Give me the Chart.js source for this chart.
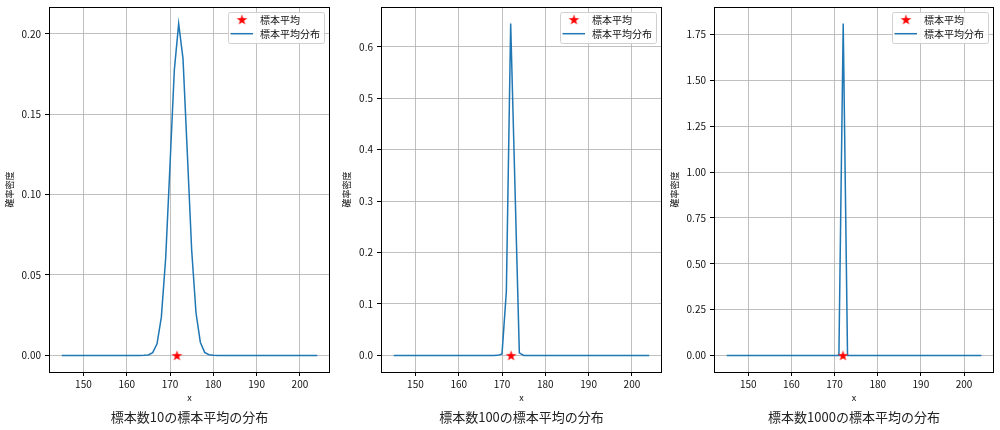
<!DOCTYPE html>
<html lang="ja">
<head>
<meta charset="UTF-8">
<title>標本平均の分布</title>
<script src="https://cdn.jsdelivr.net/npm/chart.js@4.4.1/dist/chart.umd.min.js"></script>
<style>
  body { margin: 0; background: #fff; font-family: "Noto Sans CJK JP", sans-serif; }
  .wrap { position: relative; width: 1000px; height: 430px; overflow: hidden; }
  .panel { position: absolute; top: 0; width: 334px; height: 430px; }
  .caption { position: absolute; top: 408px; font-size: 13px; line-height: 18px; color: #222;
             white-space: nowrap; transform: translateX(-50%); }
</style>
</head>
<body>
<div class="wrap">
  <div class="panel" style="left:0px"><canvas id="chart10"></canvas></div>
  <div class="panel" style="left:333px"><canvas id="chart100"></canvas></div>
  <div class="panel" style="left:666px"><canvas id="chart1000"></canvas></div>
  <div class="caption" id="cap0" style="left:189.5px"></div>
  <div class="caption" id="cap1" style="left:521.5px"></div>
  <div class="caption" id="cap2" style="left:854px"></div>
</div>

<script>
// data
const xValues = [
  145, 146, 147, 148, 149, 150, 151, 152, 153, 154,
  155, 156, 157, 158, 159, 160, 161, 162, 163, 164,
  165, 166, 167, 168, 169, 170, 171, 172, 173, 174,
  175, 176, 177, 178, 179, 180, 181, 182, 183, 184,
  185, 186, 187, 188, 189, 190, 191, 192, 193, 194,
  195, 196, 197, 198, 199, 200, 201, 202, 203, 204
];
const density10 = [
  0, 0, 0, 0, 0, 0, 0, 0, 0, 0,
  0, 0, 0, 0, 0, 0, 0, 0, 0, 0.00004,
  0.0003, 0.0017, 0.0072, 0.0238, 0.0606, 0.1185, 0.1775, 0.2063, 0.1845, 0.1255,
  0.0655, 0.0265, 0.0082, 0.0019, 0.0004, 0.00005, 0, 0, 0, 0,
  0, 0, 0, 0, 0, 0, 0, 0, 0, 0,
  0, 0, 0, 0, 0, 0, 0, 0, 0, 0
];
const density100 = [
  0, 0, 0, 0, 0, 0, 0, 0, 0, 0,
  0, 0, 0, 0, 0, 0, 0, 0, 0, 0,
  0, 0, 0, 0, 0.0001, 0.003, 0.124, 0.645, 0.325, 0.005,
  0.00003, 0, 0, 0, 0, 0, 0, 0, 0, 0,
  0, 0, 0, 0, 0, 0, 0, 0, 0, 0,
  0, 0, 0, 0, 0, 0, 0, 0, 0, 0
];
const density1000 = [
  0, 0, 0, 0, 0, 0, 0, 0, 0, 0,
  0, 0, 0, 0, 0, 0, 0, 0, 0, 0,
  0, 0, 0, 0, 0, 0, 0.0001, 1.81, 0.0001, 0,
  0, 0, 0, 0, 0, 0, 0, 0, 0, 0,
  0, 0, 0, 0, 0, 0, 0, 0, 0, 0,
  0, 0, 0, 0, 0, 0, 0, 0, 0, 0
];
const sampleMeans = [171.6, 172.1, 171.95];
const xTicks = [150, 160, 170, 180, 190, 200];
const yTicks10 = [0, 0.05, 0.10, 0.15, 0.20];
const yTicks100 = [0, 0.1, 0.2, 0.3, 0.4, 0.5, 0.6];
const yTicks1000 = [0, 0.25, 0.5, 0.75, 1.0, 1.25, 1.5, 1.75];
const seriesLabels = ['標本平均', '標本平均分布'];
const captions = ['標本数10の標本平均の分布', '標本数100の標本平均の分布', '標本数1000の標本平均の分布'];

const FONT = '"Noto Sans CJK JP", "Noto Sans", sans-serif';
const BLUE = '#1f77b4';

// filled red star used as the marker
function makeStar() {
  const c = document.createElement('canvas');
  c.width = 13; c.height = 13;
  const g = c.getContext('2d');
  const R = 5.6, r = R * 0.382;
  g.beginPath();
  for (let i = 0; i < 10; i++) {
    const rad = i % 2 === 0 ? R : r;
    const a = -Math.PI / 2 + i * Math.PI / 5;
    const px = 6.5 + rad * Math.cos(a), py = 7 + rad * Math.sin(a);
    if (i === 0) g.moveTo(px, py); else g.lineTo(px, py);
  }
  g.closePath();
  g.fillStyle = 'red';
  g.fill();
  return c;
}
const star = makeStar();

// axes frame on all four sides
const framePlugin = {
  id: 'frame',
  afterDatasetsDraw(chart) {
    const a = chart.chartArea, ctx = chart.ctx;
    ctx.save();
    ctx.strokeStyle = '#000';
    ctx.lineWidth = 1;
    ctx.strokeRect(Math.round(a.left) + 0.5, Math.round(a.top) + 0.5,
                   Math.round(a.right - a.left) - 1, Math.round(a.bottom - a.top));
    ctx.restore();
  }
};

// matplotlib-like legend box inside the plot, top right
const legendPlugin = {
  id: 'boxLegend',
  afterDraw(chart) {
    const a = chart.chartArea, ctx = chart.ctx;
    const w = 96, h = 31;
    const x = a.right - 6 - w, y = a.top + 5;
    ctx.save();
    ctx.beginPath();
    ctx.roundRect(x + 0.5, y + 0.5, w, h, 2);
    ctx.fillStyle = 'rgba(255,255,255,0.85)';
    ctx.fill();
    ctx.strokeStyle = '#d0d0d0';
    ctx.lineWidth = 1;
    ctx.stroke();
    ctx.font = '10px ' + FONT;
    ctx.textBaseline = 'middle';
    ctx.fillStyle = '#111';
    chart.data.datasets.forEach((ds, i) => {
      const cy = y + 8 + i * 13.7;
      if (ds.showLine) {
        ctx.beginPath();
        ctx.moveTo(x + 2.5, cy);
        ctx.lineTo(x + 25, cy);
        ctx.strokeStyle = ds.borderColor;
        ctx.lineWidth = 1.5;
        ctx.stroke();
      } else {
        ctx.drawImage(star, x + 14 - 6.5, cy - 7);
      }
      ctx.fillText(ds.label, x + 32, cy + 0.5);
    });
    ctx.restore();
  }
};

function makeChart(id, density, mean, yTicks, decimals, plotLeft, plotRight, yTitleX) {
  const maxY = Math.max(...density);
  const span = xValues[xValues.length - 1] - xValues[0];
  new Chart(document.getElementById(id), {
    type: 'scatter',
    data: {
      datasets: [
        {
          label: seriesLabels[0],
          data: [{ x: mean, y: 0 }],
          pointStyle: star,
          pointRadius: 6,
          showLine: false
        },
        {
          label: seriesLabels[1],
          data: xValues.map((v, i) => ({ x: v, y: density[i] })),
          showLine: true,
          borderColor: BLUE,
          borderWidth: 1.5,
          pointRadius: 0,
          tension: 0
        }
      ]
    },
    options: {
      responsive: true,
      maintainAspectRatio: false,
      animation: false,
      layout: { autoPadding: false, padding: { left: 0, right: 334 - plotRight, top: 7, bottom: 22 } },
      plugins: { legend: { display: false }, tooltip: { enabled: false } },
      scales: {
        x: {
          type: 'linear',
          min: xValues[0] - span * 0.05,
          max: xValues[xValues.length - 1] + span * 0.05,
          afterBuildTicks: s => { s.ticks = xTicks.map(v => ({ value: v })); },
          afterFit: s => { s.height = 36; s.paddingLeft = 0; s.paddingRight = 0; },
          ticks: {
            font: { family: FONT, size: 10 }, color: '#111', padding: 2, maxRotation: 0,
            callback: v => String(v)
          },
          grid: { color: '#b0b0b0', lineWidth: 0.8, tickColor: '#000', tickLength: 4, tickWidth: 1 },
          border: { display: false },
          title: { display: true, text: 'x', font: { family: FONT, size: 9 }, color: '#111',
                   padding: { top: 0, bottom: 5.3 } }
        },
        y: {
          min: -maxY * 0.05,
          max: maxY * 1.05,
          afterBuildTicks: s => { s.ticks = yTicks.map(v => ({ value: v })); },
          afterFit: s => { s.width = plotLeft; s.paddingTop = 0; s.paddingBottom = 0; },
          ticks: {
            font: { family: FONT, size: 10 }, color: '#111', padding: 4,
            callback: v => v.toFixed(decimals)
          },
          grid: { color: '#b0b0b0', lineWidth: 0.8, tickColor: '#000', tickLength: 4, tickWidth: 1 },
          border: { display: false },
          title: { display: true, text: '確率密度', font: { family: FONT, size: 9 }, color: '#111',
                   padding: { top: yTitleX - 5.4, bottom: 0 } }
        }
      }
    },
    plugins: [framePlugin, legendPlugin]
  });
}

makeChart('chart10', density10, sampleMeans[0], yTicks10, 2, 49, 330, 10);
makeChart('chart100', density100, sampleMeans[1], yTicks100, 1, 48, 329, 13.7);
makeChart('chart1000', density1000, sampleMeans[2], yTicks1000, 2, 48, 328, 9);

captions.forEach((t, i) => { document.getElementById('cap' + i).textContent = t; });
</script>
</body>
</html>
